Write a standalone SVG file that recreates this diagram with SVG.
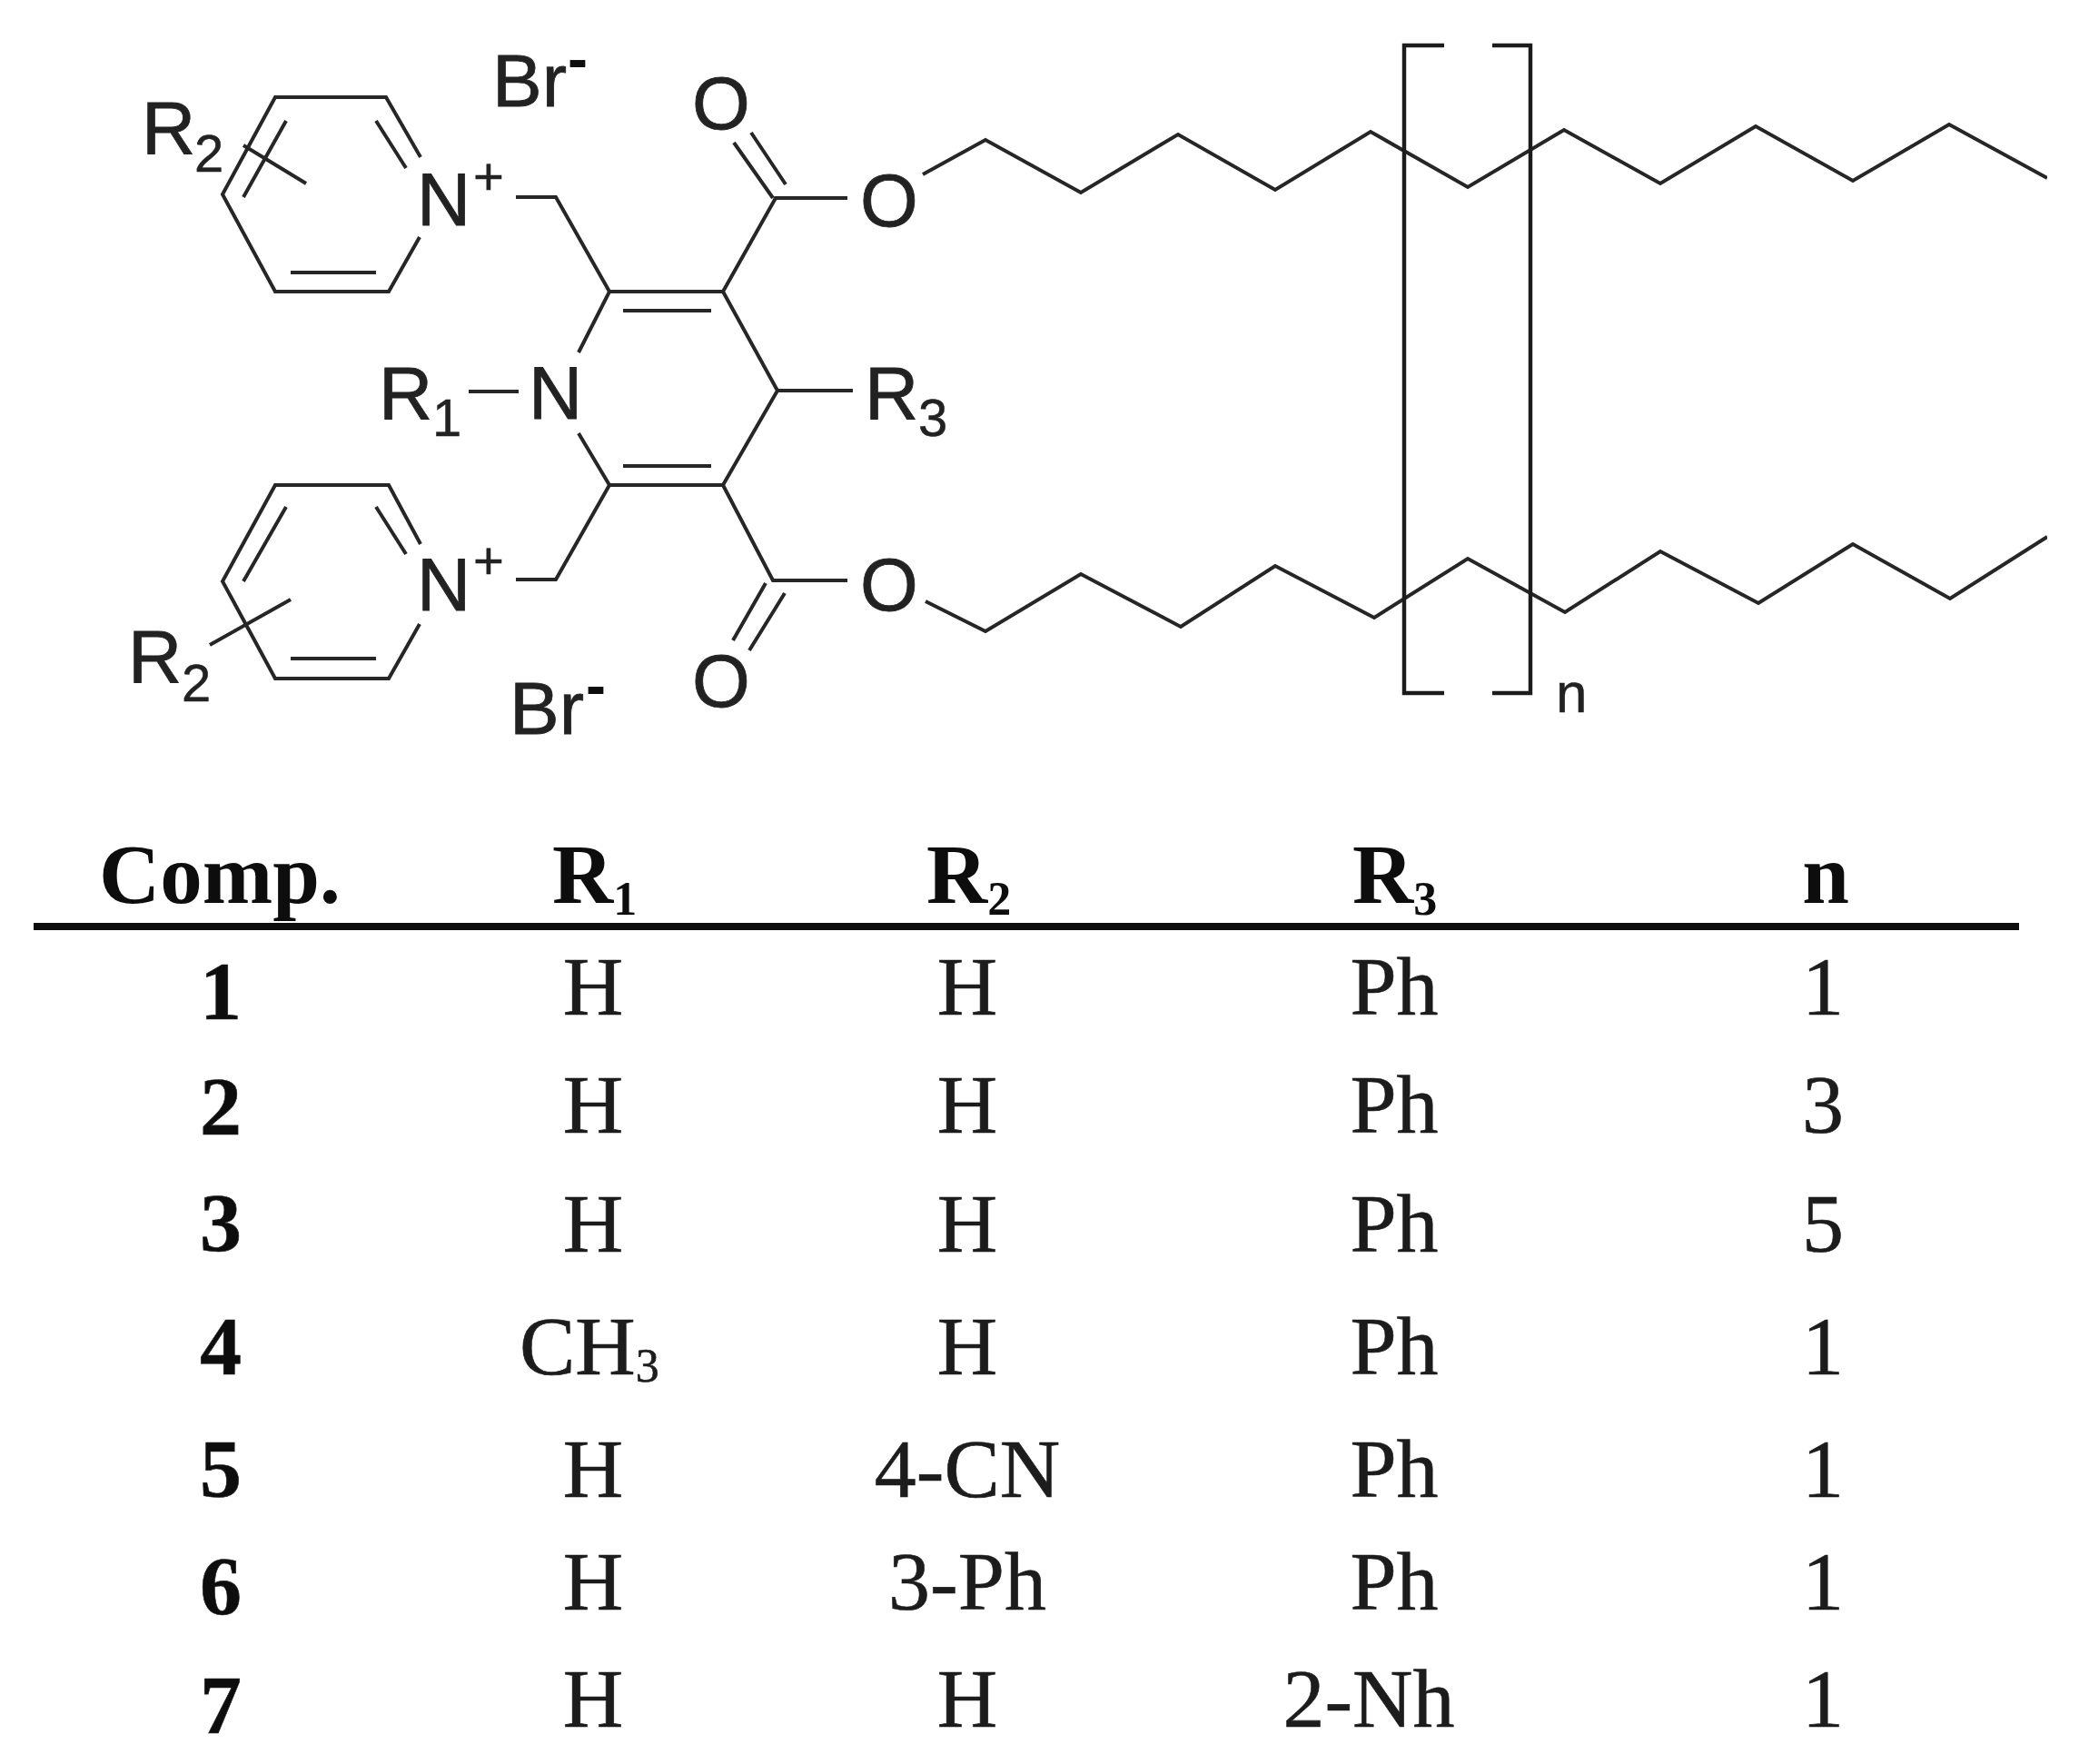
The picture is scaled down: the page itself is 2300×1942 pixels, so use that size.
<svg xmlns="http://www.w3.org/2000/svg" width="2300" height="1942" viewBox="0 0 2300 1942">
<style>
.b{fill:none;stroke:#262626;stroke-width:4;stroke-linejoin:miter;stroke-linecap:butt}
.br{fill:none;stroke:#1a1a1a;stroke-width:4.4;stroke-linejoin:miter}
.a{font-family:"Liberation Sans",Arial,sans-serif;font-size:82px;fill:#222;stroke:#222;stroke-width:.8}
.s{font-family:"Liberation Sans",Arial,sans-serif;font-size:58px;fill:#222;stroke:#222;stroke-width:.5}
.d{font-family:"Liberation Sans",Arial,sans-serif;font-size:66px;font-weight:700;fill:#111}
.m{text-anchor:middle}
.t{font-family:"Liberation Serif","Times New Roman",serif;font-size:92px;fill:#1c1c1c;stroke:#1c1c1c;stroke-width:.6;text-anchor:middle}
.h{font-family:"Liberation Serif","Times New Roman",serif;font-size:93px;font-weight:700;fill:#111}
.c{text-anchor:middle;font-weight:700;fill:#111}
</style>
<defs><filter id="soft" x="0" y="0" width="100%" height="100%"><feGaussianBlur stdDeviation="0.7"/></filter></defs>
<rect width="2300" height="1942" fill="#fff"/>
<g filter="url(#soft)">
<g id="connectors">
<g id="pyridine-top" class="b">
<path d="M463 173L425 107H303L245 214L303 321H428L462 261"/>
<path d="M414 133L447 185M315 133L268 217M320 300H414"/>
<path d="M268 160L337 202"/>
</g>
<g id="pyridine-bottom" class="b">
<path d="M463 599L428 534H303L245 640L303 747H428L462 687"/>
<path d="M414 558L447 610M315 558L268 640M320 725H414"/>
<path d="M231 710L320 660"/>
</g>
<g id="dihydropyridine" class="b">
<path d="M637 388L671 321H796L856 430L796 534H671L637 477"/>
<path d="M686 342H783M686 513H783"/>
<path d="M516 431H571M856 430H939"/>
</g>
<g id="methylene" class="b">
<path d="M568 217H612L671 321"/>
<path d="M568 638H612L671 534"/>
</g>
<g id="esters" class="b">
<path d="M796 321L854 218H933M808 157L851 218M827 146L865 203"/>
<path d="M796 534L851 639H933M807 705L843 642M825 716L864 653"/>
</g>
<g id="chain-top" class="b">
<path d="M1016 192L1085 154L1190 212L1297 148L1404 209L1509 145L1616 206L1722 143L1828 202L1933 139L2040 199L2146 137L2254 196"/>
</g>
<g id="chain-bottom" class="b">
<path d="M1019 662L1085 695L1190 632L1300 690L1404 623L1513 680L1616 615L1723 674L1828 607L1936 664L2040 599L2147 659L2254 591"/>
</g>
<g id="brackets" class="br">
<path d="M1590 50H1546V763H1590"/>
<path d="M1643 50H1685V763H1643"/>
</g>
</g>
<g id="atoms">
<g id="r2-top"><text class="a" x="156" y="169">R</text><text class="s" x="214" y="189">2</text></g>
<g id="br-top"><text class="a" x="542" y="117">Br</text><text class="d" x="625" y="87">-</text></g>
<g id="o-top"><text class="a m" x="794" y="142">O</text></g>
<g id="n-top"><text class="a" x="459" y="248">N</text><text class="s m" x="538" y="214">+</text></g>
<g id="o-ester-top"><text class="a m" x="979" y="249">O</text></g>
<g id="r1"><text class="a" x="417" y="461">R</text><text class="s" x="476" y="480">1</text></g>
<g id="n-center"><text class="a" x="582" y="461">N</text></g>
<g id="r3"><text class="a" x="952" y="461">R</text><text class="s" x="1011" y="480">3</text></g>
<g id="n-bottom"><text class="a" x="459" y="672">N</text><text class="s m" x="538" y="637">+</text></g>
<g id="o-ester-bottom"><text class="a m" x="979" y="672">O</text></g>
<g id="o-bottom"><text class="a m" x="794" y="778">O</text></g>
<g id="r2-bottom"><text class="a" x="141" y="751">R</text><text class="s" x="200" y="772">2</text></g>
<g id="br-bottom"><text class="a" x="561" y="808">Br</text><text class="d" x="645" y="777">-</text></g>
<g id="n-label"><text class="s" x="1713" y="784" style="font-size:62px">n</text></g>
</g>
<g id="table">
<rect id="rule" x="37" y="1016" width="2186" height="8" fill="#0c0c0c"/>
<g id="header">
<text class="h" x="109" y="994">Comp.</text>
<text class="h" x="608" y="994">R<tspan font-size="52" dy="13">1</tspan></text>
<text class="h" x="1020" y="994">R<tspan font-size="52" dy="13">2</tspan></text>
<text class="h" x="1489" y="994">R<tspan font-size="52" dy="13">3</tspan></text>
<text class="h m" x="2010" y="994">n</text>
</g>
<g id="row1"><text class="t c" x="243" y="1122">1</text><text class="t" x="653" y="1117">H</text><text class="t" x="1065" y="1117">H</text><text class="t" x="1535" y="1117">Ph</text><text class="t" x="2007" y="1117">1</text></g>
<g id="row2"><text class="t c" x="243" y="1249">2</text><text class="t" x="653" y="1247">H</text><text class="t" x="1065" y="1247">H</text><text class="t" x="1535" y="1247">Ph</text><text class="t" x="2007" y="1247">3</text></g>
<g id="row3"><text class="t c" x="243" y="1377">3</text><text class="t" x="653" y="1378">H</text><text class="t" x="1065" y="1378">H</text><text class="t" x="1535" y="1378">Ph</text><text class="t" x="2007" y="1378">5</text></g>
<g id="row4"><text class="t c" x="243" y="1513">4</text><text class="t" x="572" y="1513" style="text-anchor:start">CH<tspan font-size="52" dy="8">3</tspan></text><text class="t" x="1065" y="1513">H</text><text class="t" x="1535" y="1513">Ph</text><text class="t" x="2007" y="1513">1</text></g>
<g id="row5"><text class="t c" x="243" y="1648">5</text><text class="t" x="653" y="1648">H</text><text class="t" x="1065" y="1648">4-CN</text><text class="t" x="1535" y="1648">Ph</text><text class="t" x="2007" y="1648">1</text></g>
<g id="row6"><text class="t c" x="243" y="1777">6</text><text class="t" x="653" y="1772">H</text><text class="t" x="1065" y="1772">3-Ph</text><text class="t" x="1535" y="1772">Ph</text><text class="t" x="2007" y="1772">1</text></g>
<g id="row7"><text class="t c" x="243" y="1908">7</text><text class="t" x="653" y="1901">H</text><text class="t" x="1065" y="1901">H</text><text class="t" x="1507" y="1901">2-Nh</text><text class="t" x="2007" y="1901">1</text></g>
</g>
</g>
</svg>
